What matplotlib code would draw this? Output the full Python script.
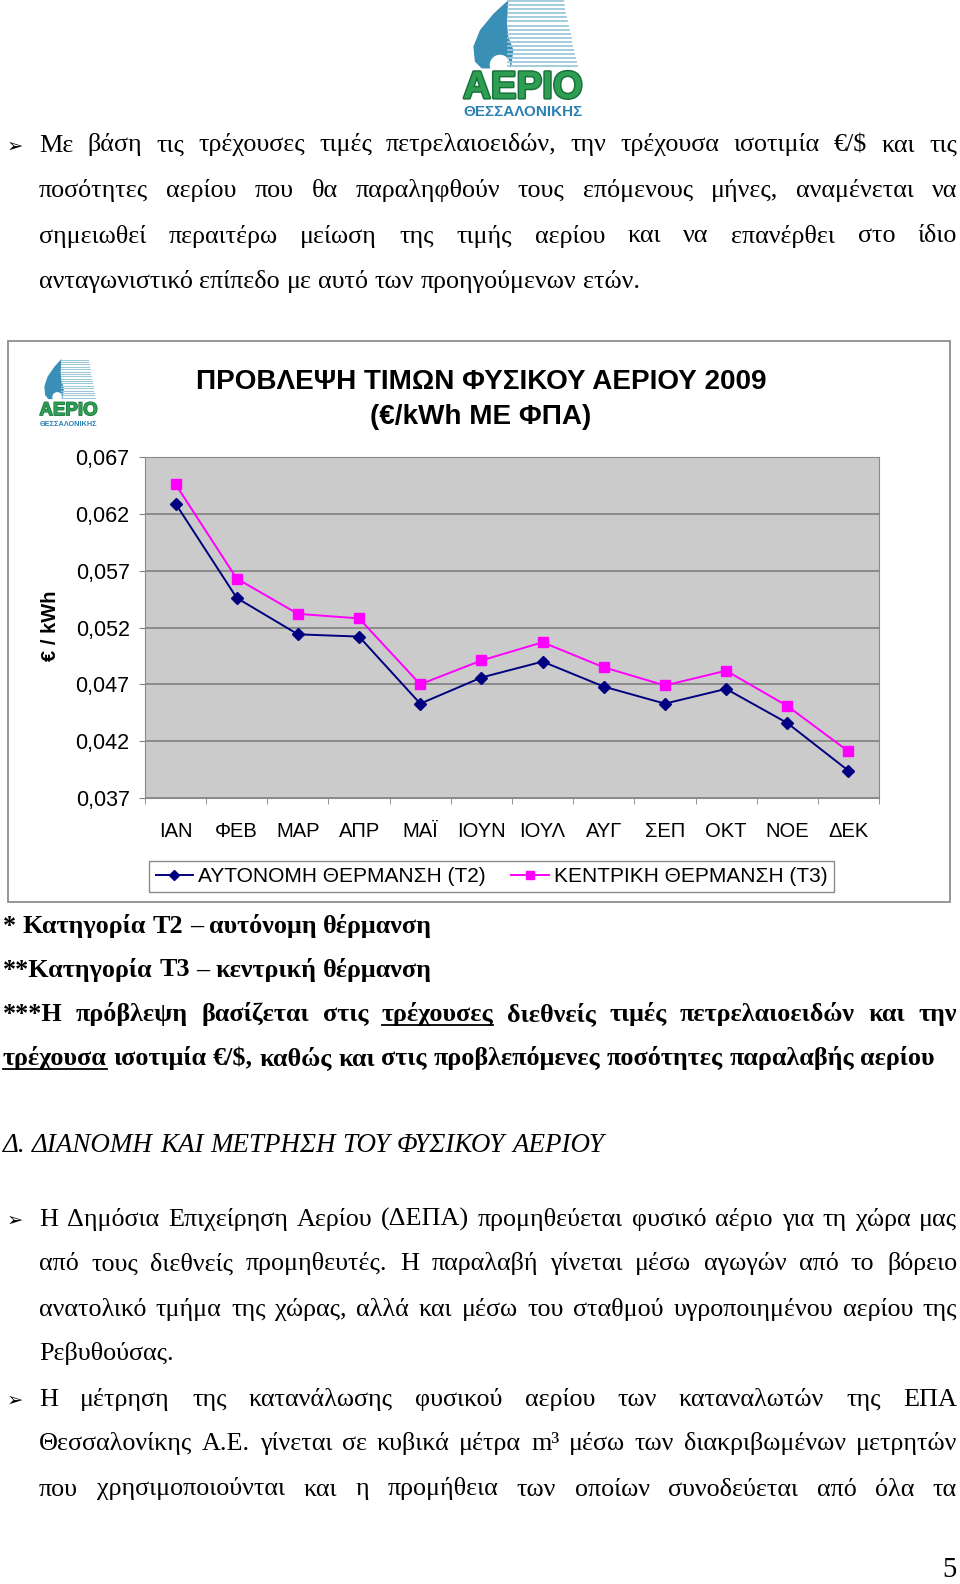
import matplotlib
matplotlib.use("Agg")
import matplotlib.pyplot as plt
import matplotlib.patheffects as pe
from matplotlib.patches import Polygon, Rectangle, Circle
from matplotlib.ticker import FuncFormatter

# ---- chart data ----
months = ["ΙΑΝ", "ΦΕΒ", "ΜΑΡ", "ΑΠΡ", "ΜΑΪ", "ΙΟΥΝ", "ΙΟΥΛ", "ΑΥΓ", "ΣΕΠ", "ΟΚΤ", "ΝΟΕ", "ΔΕΚ"]
t2_autonomous = [0.0629, 0.0546, 0.0514, 0.0512, 0.0453, 0.0476, 0.0490, 0.0468, 0.0453, 0.0466, 0.0436, 0.0394]
t3_central = [0.0646, 0.0563, 0.0532, 0.0528, 0.0470, 0.0491, 0.0507, 0.0485, 0.0469, 0.0482, 0.0451, 0.0411]
y_ticks = [0.037, 0.042, 0.047, 0.052, 0.057, 0.062, 0.067]
series_names = ["ΑΥΤΟΝΟΜΗ ΘΕΡΜΑΝΣΗ (Τ2)", "ΚΕΝΤΡΙΚΗ ΘΕΡΜΑΝΣΗ (Τ3)"]
title_lines = ["ΠΡΟΒΛΕΨΗ ΤΙΜΩΝ ΦΥΣΙΚΟΥ ΑΕΡΙΟΥ 2009", "(€/kWh ΜΕ ΦΠΑ)"]
y_label = "€ / kWh"

# ---- page text ----
intro = [
    "Με βάση τις τρέχουσες τιμές πετρελαιοειδών, την τρέχουσα ισοτιμία €/$ και τις",
    "ποσότητες αερίου που θα παραληφθούν τους επόμενους μήνες, αναμένεται να",
    "σημειωθεί περαιτέρω μείωση της τιμής αερίου και να επανέρθει στο ίδιο",
    "ανταγωνιστικό επίπεδο με αυτό των προηγούμενων ετών.",
]
notes = [
    "* Κατηγορία Τ2 – αυτόνομη θέρμανση",
    "**Κατηγορία Τ3 – κεντρική θέρμανση",
    "***Η πρόβλεψη βασίζεται στις τρέχουσες διεθνείς τιμές πετρελαιοειδών και την",
    "τρέχουσα ισοτιμία €/$, καθώς και στις προβλεπόμενες ποσότητες παραλαβής αερίου",
]
heading = "Δ. ΔΙΑΝΟΜΗ ΚΑΙ ΜΕΤΡΗΣΗ ΤΟΥ ΦΥΣΙΚΟΥ ΑΕΡΙΟΥ"
para1 = [
    "Η Δημόσια Επιχείρηση Αερίου (ΔΕΠΑ) προμηθεύεται φυσικό αέριο για τη χώρα μας",
    "από τους διεθνείς προμηθευτές. Η παραλαβή γίνεται μέσω αγωγών από το βόρειο",
    "ανατολικό τμήμα της χώρας, αλλά και μέσω του σταθμού υγροποιημένου αερίου της",
    "Ρεβυθούσας.",
]
para2 = [
    "Η μέτρηση της κατανάλωσης φυσικού αερίου των καταναλωτών της ΕΠΑ",
    "Θεσσαλονίκης Α.Ε. γίνεται σε κυβικά μέτρα m³ μέσω των διακριβωμένων μετρητών",
    "που χρησιμοποιούνται και η προμήθεια των οποίων συνοδεύεται από όλα τα",
]

SANS = ["Liberation Sans", "DejaVu Sans"]
SERIF = ["Liberation Serif", "DejaVu Serif"]
plt.rcParams["font.family"] = SANS

W, H = 960, 1584
fig = plt.figure(figsize=(W / 100, H / 100), dpi=100)
bg = fig.add_axes([0, 0, 1, 1])
bg.set_xlim(0, W)
bg.set_ylim(H, 0)
bg.axis("off")
r = fig.canvas.get_renderer()


def width_of(s, **kw):
    t = bg.text(0, 0, s, **kw)
    w = t.get_window_extent(r).width
    t.remove()
    return w


def fit(s, target, **kw):
    return 20 * target / width_of(s, fontsize=20, **kw)


def put_line(s, x0, y, size, x1=None, under=(), **kw):
    words = s.split(" ")
    objs = [bg.text(0, y, w, fontsize=size, va="baseline", ha="left", **kw) for w in words]
    ws = [o.get_window_extent(r).width for o in objs]
    if x1 is not None and len(words) > 1:
        gap = (x1 - x0 - sum(ws)) / (len(words) - 1)
    else:
        gap = width_of("a a", fontsize=size, **kw) - width_of("aa", fontsize=size, **kw)
    x = x0
    for o, w, wd in zip(objs, words, ws):
        o.set_x(x)
        if w in under:
            bg.plot([x, x + wd], [y + 3.5, y + 3.5], color="black", lw=1.3)
        x += wd + gap


def bullet(y):
    bg.text(15, y, "➢", family=["DejaVu Sans"], fontsize=14, ha="center", va="baseline")


def draw_logo(x0, y0, w, h):
    X = lambda u: x0 + u * w
    Y = lambda v: y0 + v * h
    v = 0.01
    while v < 0.58:
        xr = 0.77 + 0.10 * v / 0.58
        bg.plot([X(0.40), X(xr)], [Y(v), Y(v)], color="#9cc8da", lw=max(0.6, h / 90))
        v += 0.035
    flame = [(0.40, 0.0), (0.30, 0.115), (0.205, 0.26), (0.16, 0.40), (0.17, 0.53),
             (0.217, 0.59), (0.274, 0.59), (0.42, 0.575), (0.434, 0.43), (0.40, 0.316),
             (0.39, 0.20)]
    bg.add_patch(Polygon([(X(a), Y(b)) for a, b in flame], closed=True,
                         facecolor="#3a8fb7", edgecolor="none"))
    bg.add_patch(Circle((X(0.342), Y(0.56)), 0.07 * w, facecolor="white", edgecolor="none"))
    s1 = fit("ΑΕΡΙΟ", 0.82 * w, weight="heavy")
    bg.text(X(0.5), Y(0.76), "ΑΕΡΙΟ", ha="center", va="center", fontsize=s1, weight="heavy",
            color="#2e9e52",
            path_effects=[pe.withStroke(linewidth=max(1, w / 70), foreground="#17703a")])
    s2 = fit("ΘΕΣΣΑΛΟΝΙΚΗΣ", 0.82 * w, weight="bold")
    bg.text(X(0.5), Y(0.965), "ΘΕΣΣΑΛΟΝΙΚΗΣ", ha="center", va="center", fontsize=s2,
            weight="bold", color="#2b80b2")


# ---- top logo ----
draw_logo(450, 0, 146, 116)

# ---- intro paragraph ----
body = fit(intro[3], 600, family=SERIF)
base = [151.5, 197.0, 242.5, 288.0]
bullet(base[0])
for i, line in enumerate(intro):
    put_line(line, 39, base[i], body, x1=957 if i < 3 else None, family=SERIF)

# ---- chart block ----
bg.add_patch(Rectangle((8, 341), 942, 561, fill=False, edgecolor="#8f8f8f", lw=1.3))
draw_logo(33, 359, 71, 68)

tsize = fit(title_lines[0], 571, weight="bold")
bg.text(481, 382, title_lines[0], ha="center", va="center", fontsize=tsize, weight="bold")
bg.text(481, 417, title_lines[1], ha="center", va="center", fontsize=tsize, weight="bold")
bg.text(50, 626, y_label, rotation=90, ha="center", va="center", fontsize=14.5, weight="bold")

ax = fig.add_axes([145 / W, 1 - 798 / H, (879 - 145) / W, (798 - 457) / H])
ax.set_facecolor("#cbcbcb")
xs = list(range(len(months)))
ax.plot(xs, t2_autonomous, color="#000080", marker="D", ms=6, lw=1.4, label=series_names[0])
ax.plot(xs, t3_central, color="#ff00ff", marker="s", ms=6.5, lw=1.4, label=series_names[1])
ax.set_xlim(-0.5, len(months) - 0.5)
ax.set_ylim(y_ticks[0], y_ticks[-1])
ax.set_yticks(y_ticks)
ax.yaxis.set_major_formatter(FuncFormatter(lambda v, p: f"{v:.3f}".replace(".", ",")))
ax.set_xticks(xs)
ax.set_xticklabels(months)
ax.set_xticks([i - 0.5 for i in range(len(months) + 1)], minor=True)
ax.grid(axis="y", color="#808080", lw=1.2)
ax.set_axisbelow(True)
ax.tick_params(axis="x", which="major", length=0, pad=17, labelsize=14.5)
ax.tick_params(axis="x", which="minor", length=4.5, color="#808080")
ax.tick_params(axis="y", length=4.5, color="#808080", pad=6.5, labelsize=15.5)
for sp in ax.spines.values():
    sp.set_color("#8a8a8a")

leg = ax.legend(loc="center", bbox_to_anchor=(491.5 / W, 1 - 876.5 / H),
                bbox_transform=fig.transFigure, ncol=2, fontsize=15, frameon=True,
                fancybox=False, edgecolor="#8a8a8a", handlelength=1.8, handletextpad=0.25,
                columnspacing=1.2, borderpad=0.3, borderaxespad=0, markerscale=0.85)
leg.get_frame().set_linewidth(1.0)
leg.get_frame().set_alpha(1)

# ---- footnotes ----
nsize = fit(notes[3], 928, family=SERIF, weight="bold")
nbase = [933.0, 976.5, 1021.0, 1065.5]
put_line(notes[0], 3, nbase[0], nsize, family=SERIF, weight="bold")
put_line(notes[1], 3, nbase[1], nsize, family=SERIF, weight="bold")
put_line(notes[2], 3, nbase[2], nsize, x1=957, under=("τρέχουσες",), family=SERIF, weight="bold")
put_line(notes[3], 3, nbase[3], nsize, under=("τρέχουσα",), family=SERIF, weight="bold")

# ---- heading ----
hsize = fit(heading, 601, family=SERIF, style="italic")
put_line(heading, 3, 1152.5, hsize, family=SERIF, style="italic")

# ---- lower paragraphs ----
p1 = [1225.8, 1270.3, 1315.7, 1360.2]
bullet(p1[0])
for i, line in enumerate(para1):
    put_line(line, 39, p1[i], body, x1=957 if i < 3 else None, family=SERIF)
p2 = [1405.6, 1450.1, 1495.5]
bullet(p2[0])
for i, line in enumerate(para2):
    put_line(line, 39, p2[i], body, x1=957, family=SERIF)

bg.text(957, 1577, "5", ha="right", va="baseline", fontsize=body * 1.1, family=SERIF)

fig.savefig("out.png", dpi=100, facecolor="white")
